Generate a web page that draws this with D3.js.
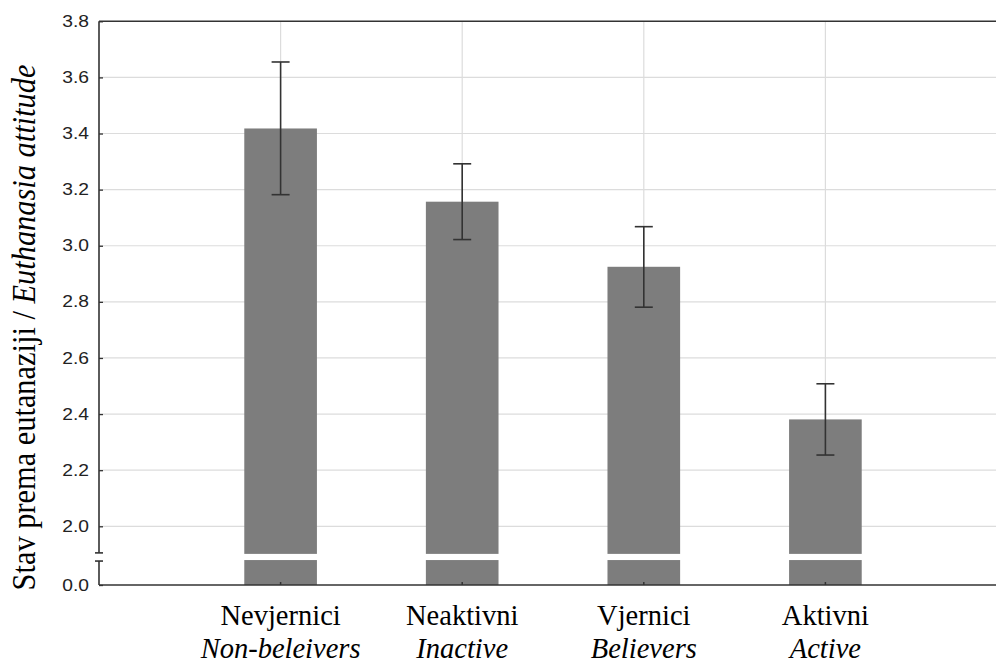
<!DOCTYPE html>
<html><head><meta charset="utf-8">
<script src="https://cdn.jsdelivr.net/npm/d3@7"></script>
<style>html,body{margin:0;padding:0;background:#fff;}svg{display:block;}</style>
</head><body>
<svg id="chart" width="996" height="664"></svg>
<script>
const categories = ["Nevjernici", "Neaktivni", "Vjernici", "Aktivni"];
const categoriesEn = ["Non-beleivers", "Inactive", "Believers", "Active"];
const means = [3.418, 3.157, 2.925, 2.381];
const upper = [3.655, 3.292, 3.068, 2.508];
const lower = [3.182, 3.022, 2.781, 2.254];
const tickValues = [0.0, 2.0, 2.2, 2.4, 2.6, 2.8, 3.0, 3.2, 3.4, 3.6, 3.8];
const gridValues = [2.0, 2.2, 2.4, 2.6, 2.8, 3.0, 3.2, 3.4, 3.6];
const breakLow = 0.85, breakHigh = 1.06;

(function () {
const SERIF = "'Liberation Serif', 'Times New Roman', Times, serif";
const SANS = "'Liberation Sans', Arial, Helvetica, sans-serif";
const svg = d3.select("#chart");
const mL = 99, mT = 21.3, mB = 585, mR = 1007;
const x = d3.scaleLinear().domain([0, 5]).range([mL, mR]);
const y = d3.scaleLinear().domain([0, 2, 3.8]).range([mB, 526.3, mT]);
const pos = categories.map((d, i) => i + 1);
const bw = x(0.4) - x(0);

// grid
svg.append("g").selectAll("line").data(gridValues).join("line")
  .attr("x1", mL).attr("x2", 996).attr("y1", d => y(d)).attr("y2", d => y(d))
  .attr("stroke", "#dcdcdc").attr("stroke-width", 1.2);
svg.append("g").selectAll("line").data(pos).join("line")
  .attr("x1", d => x(d)).attr("x2", d => x(d)).attr("y1", mT).attr("y2", mB)
  .attr("stroke", "#dcdcdc").attr("stroke-width", 1.2);

// bars
svg.append("g").selectAll("rect").data(means).join("rect")
  .attr("x", (d, i) => x(pos[i]) - bw / 2).attr("width", bw)
  .attr("y", d => y(d)).attr("height", d => y(0) - y(d))
  .attr("fill", "#7d7d7d");
// break gaps in bars
svg.append("g").selectAll("rect").data(means).join("rect")
  .attr("x", (d, i) => x(pos[i]) - bw / 2 - 1).attr("width", bw + 2)
  .attr("y", y(breakHigh)).attr("height", y(breakLow) - y(breakHigh))
  .attr("fill", "#fff");

// error bars
const eb = svg.append("g").attr("stroke", "#333").attr("stroke-width", 1.6);
eb.selectAll("line.v").data(means).join("line").attr("class", "v")
  .attr("x1", (d, i) => x(pos[i])).attr("x2", (d, i) => x(pos[i]))
  .attr("y1", (d, i) => y(upper[i])).attr("y2", (d, i) => y(lower[i]));
eb.selectAll("line.t").data(upper).join("line").attr("class", "t")
  .attr("x1", (d, i) => x(pos[i]) - 9).attr("x2", (d, i) => x(pos[i]) + 9)
  .attr("y1", d => y(d)).attr("y2", d => y(d));
eb.selectAll("line.b").data(lower).join("line").attr("class", "b")
  .attr("x1", (d, i) => x(pos[i]) - 9).attr("x2", (d, i) => x(pos[i]) + 9)
  .attr("y1", d => y(d)).attr("y2", d => y(d));

// frame lines: top and bottom
svg.append("line").attr("x1", mL).attr("x2", 996).attr("y1", mT).attr("y2", mT)
  .attr("stroke", "#333").attr("stroke-width", 1.6);
svg.append("line").attr("x1", mL).attr("x2", 996).attr("y1", mB).attr("y2", mB)
  .attr("stroke", "#333").attr("stroke-width", 1.6);

// y axis
const yAxis = d3.axisLeft(y).tickValues(tickValues).tickFormat(d3.format(".1f"))
  .tickSizeInner(-4).tickSizeOuter(0).tickPadding(0);
const ga = svg.append("g").attr("transform", `translate(${mL},0)`).call(yAxis);
ga.select(".domain").remove();
ga.selectAll(".tick line").attr("stroke", "#333").attr("stroke-width", 1.3);
ga.selectAll(".tick text").attr("font-family", SANS)
  .attr("font-size", 15.8).attr("fill", "#222")
  .attr("x", 0).attr("transform", "translate(-10,0) scale(1.22,1)");
// axis line with break
const yb1 = y(breakHigh) - 1, yb2 = y(breakLow) + 1;
const ax = svg.append("g").attr("stroke", "#333").attr("stroke-width", 1.6);
ax.append("line").attr("x1", mL).attr("x2", mL).attr("y1", mT).attr("y2", yb1);
ax.append("line").attr("x1", mL).attr("x2", mL).attr("y1", yb2).attr("y2", mB);
ax.append("line").attr("x1", mL - 4).attr("x2", mL + 4).attr("y1", yb1).attr("y2", yb1);
ax.append("line").attr("x1", mL - 4).attr("x2", mL + 4).attr("y1", yb2).attr("y2", yb2);

// x ticks (small inward)
svg.append("g").selectAll("line").data(pos).join("line")
  .attr("x1", d => x(d)).attr("x2", d => x(d)).attr("y1", mB).attr("y2", mB - 3)
  .attr("stroke", "#333").attr("stroke-width", 1.5);

// category labels
const lab = svg.append("g").style("font-family", SERIF)
  .attr("font-size", 28.5).attr("fill", "#000").attr("text-anchor", "middle");
lab.selectAll("text.a").data(categories).join("text").attr("class", "a")
  .attr("x", (d, i) => x(pos[i])).attr("y", 624.5).text(d => d);
lab.selectAll("text.b").data(categoriesEn).join("text").attr("class", "b")
  .attr("x", (d, i) => x(pos[i])).attr("y", 657.5)
  .attr("font-style", "italic").text(d => d);

// y title
const yt = svg.append("text").attr("transform", "translate(35,327.5) rotate(-90) scale(1,1.08)")
  .style("font-family", SERIF).attr("font-size", 30.4)
  .attr("text-anchor", "middle").attr("fill", "#000");
yt.append("tspan").text("Stav prema eutanaziji / ");
yt.append("tspan").attr("font-style", "italic").text("Euthanasia attitude");
})();
</script>
</body></html>
